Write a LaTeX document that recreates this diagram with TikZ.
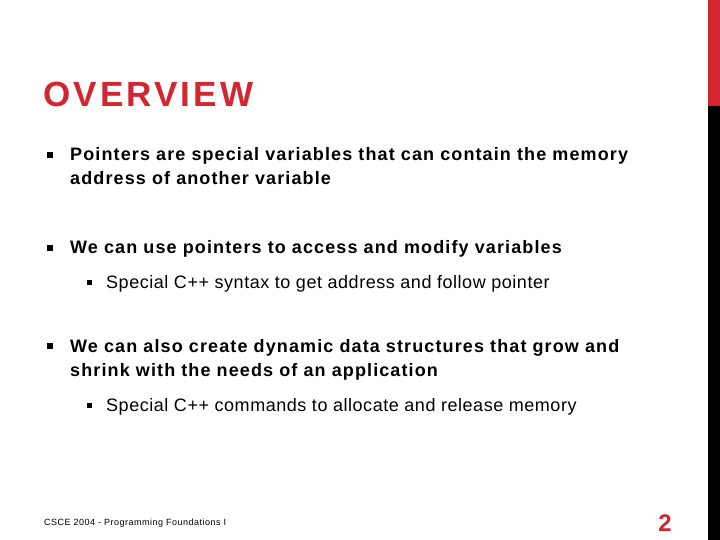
\documentclass[tikz,border=0pt]{standalone}
\usepackage{fontspec}
\setmainfont{Liberation Sans}
\newfontfamily\spfont[LetterSpace=6.2]{Liberation Sans}
\newfontfamily\subfont[LetterSpace=3]{Liberation Sans}
\newfontfamily\ftfont[LetterSpace=5.5]{Liberation Sans}
\newfontfamily\ttlfont[LetterSpace=9]{Liberation Sans}
\definecolor{redc}{RGB}{210,38,48}
\begin{document}
\begin{tikzpicture}[x=1pt,y=-1pt,
  txt/.style={anchor=base west,inner sep=0pt,font=\spfont\fontsize{18}{20}\selectfont\bfseries},
  sub/.style={anchor=base west,inner sep=0pt,font=\subfont\fontsize{18}{20}\selectfont},
  bul/.style={fill=black,minimum size=5.5pt,inner sep=0pt}]
\useasboundingbox (0,0) rectangle (720,540);
\fill[white] (0,0) rectangle (720,540);
\fill[redc] (708,0) rectangle (720,106);
\fill[black] (708,106) rectangle (720,540);
\node[anchor=base west,inner sep=0pt,text=redc,font=\ttlfont\fontsize{35}{38}\selectfont\bfseries] (title) at (43,107) {OVERVIEW};
\node[bul] (b1) at (50,155) {};
\node[txt] (t1a) at (70,161) {Pointers are special variables that can contain the memory};
\node[txt] (t1b) at (70,185) {address of another variable};
\node[bul] (b2) at (50,248) {};
\node[txt] (t2) at (70,254) {We can use pointers to access and modify variables};
\node[bul,minimum size=5pt] (b3) at (89,282) {};
\node[sub] (t3) at (106,288) {Special C++ syntax to get address and follow pointer};
\node[bul] (b4) at (50,346) {};
\node[txt] (t4a) at (70,352) {We can also create dynamic data structures that grow and};
\node[txt] (t4b) at (70,376) {shrink with the needs of an application};
\node[bul,minimum size=5pt] (b5) at (89,405) {};
\node[sub] (t5) at (106,411) {Special C++ commands to allocate and release memory};
\node[anchor=base west,inner sep=0pt,font=\ftfont\fontsize{9}{10}\selectfont] (foot) at (44,525) {CSCE 2004 - Programming Foundations I};
\node[anchor=base east,inner sep=0pt,text=redc,font=\fontsize{24}{26}\selectfont\bfseries] (pg) at (672,531) {2};
\end{tikzpicture}
\end{document}
